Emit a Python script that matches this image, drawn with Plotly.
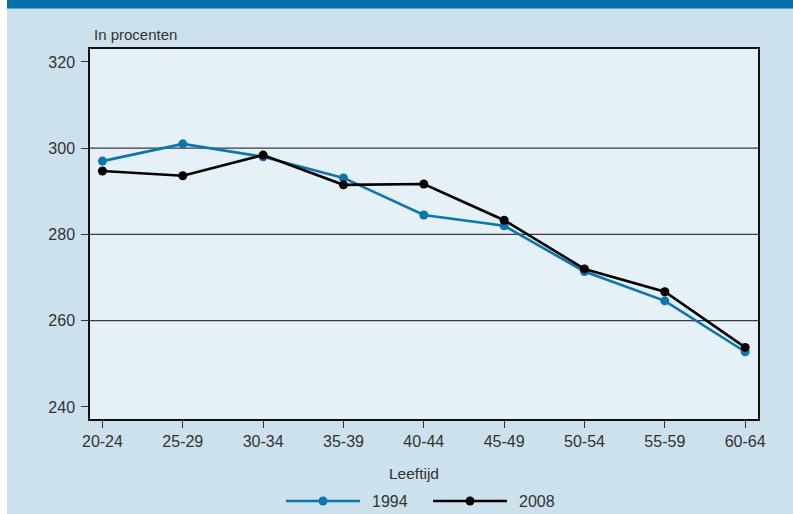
import plotly.graph_objects as go

# Age groups and series values (percent)
leeftijd = ["20-24", "25-29", "30-34", "35-39", "40-44", "45-49", "50-54", "55-59", "60-64"]
waarden_1994 = [297.0, 301.0, 298.0, 293.1, 284.5, 282.0, 271.4, 264.6, 252.8]
waarden_2008 = [294.7, 293.6, 298.4, 291.5, 291.7, 283.3, 272.0, 266.7, 253.8]
y_ticks = [240, 260, 280, 300, 320]
grid_levels = [260, 280, 300]

W, H = 793, 514
L, R, T, B = 90, 35, 49, 95
BLUE = "#0A76AE"
BAR = "#0071AA"
PANEL = "#CCE1EC"
PLOTBG = "#E5F0F7"
TXT = "#333333"
FONT = "Liberation Sans, Arial, sans-serif"

series = [("1994", waarden_1994, BLUE), ("2008", waarden_2008, "#000000")]

fig = go.Figure()
for name, vals, col in series:
    fig.add_trace(go.Scatter(
        x=leeftijd, y=vals, name=name, mode="lines+markers",
        line=dict(color=col, width=2.6), marker=dict(color=col, size=9),
        showlegend=False,
    ))

pw, ph = W - L - R, H - T - B
def px_x(x):
    return (x - L) / pw
def px_y(y):
    return (H - B - y) / ph

shapes = [
    dict(type="rect", xref="paper", yref="paper", layer="below",
         x0=px_x(7), x1=px_x(W + 2), y0=px_y(H + 2), y1=px_y(8),
         fillcolor=PANEL, line=dict(width=0)),
    dict(type="rect", xref="paper", yref="paper", layer="below",
         x0=px_x(7), x1=px_x(W + 2), y0=px_y(8.5), y1=px_y(-2),
         fillcolor=BAR, line=dict(width=0)),
    dict(type="rect", xref="paper", yref="paper", layer="below",
         x0=0, x1=1, y0=0, y1=1, fillcolor=PLOTBG, line=dict(width=0)),
]
shapes += [
    dict(type="line", xref="paper", yref="y", x0=0, x1=1, y0=g, y1=g,
         line=dict(color="#3a3a3a", width=1.2), layer="below")
    for g in grid_levels
]

# legend: line sample with a centred marker, then the label
legend_y = px_y(501)
legend_items = [(286, 360, 370), (433, 507, 517)]
annotations = []
for (name, _, col), (lx0, lx1, tx) in zip(series, legend_items):
    shapes.append(dict(type="line", xref="paper", yref="paper",
                       x0=px_x(lx0), x1=px_x(lx1), y0=legend_y, y1=legend_y,
                       line=dict(color=col, width=2.6)))
    cx = (lx0 + lx1) / 2
    shapes.append(dict(type="circle", xref="paper", yref="paper",
                       x0=px_x(cx - 4.5), x1=px_x(cx + 4.5),
                       y0=px_y(501 + 4.5), y1=px_y(501 - 4.5),
                       fillcolor=col, line=dict(color=col, width=0)))
    annotations.append(dict(text=name, xref="paper", yref="paper",
                            x=px_x(tx), y=legend_y, xanchor="left", yanchor="middle",
                            showarrow=False, font=dict(size=16, color=TXT)))

annotations.append(dict(text="In procenten", xref="paper", yref="paper",
                        x=px_x(92), y=px_y(35), xanchor="left", yanchor="middle",
                        showarrow=False, font=dict(size=15, color=TXT)))
annotations.append(dict(text="Leeftijd", xref="paper", yref="paper",
                        x=px_x(414), y=px_y(473), xanchor="center", yanchor="middle",
                        showarrow=False, font=dict(size=15.5, color=TXT)))

fig.update_layout(
    width=W, height=H,
    margin=dict(l=L, r=R, t=T, b=B, pad=0, autoexpand=False),
    paper_bgcolor="white",
    plot_bgcolor=PLOTBG,
    font=dict(family=FONT, size=16, color=TXT),
    showlegend=False,
    shapes=shapes,
    annotations=annotations,
)

fig.update_xaxes(
    type="category", range=[-0.155, 8.16], automargin=False,
    showgrid=False, showline=True, linecolor="#111111", linewidth=1.5, mirror=True,
    ticks="outside", ticklen=7, tickcolor="#333333", tickwidth=1.3,
    tickfont=dict(size=16, color=TXT), zeroline=False,
)
fig.update_yaxes(
    range=[237.2, 323.0], tickvals=y_ticks, automargin=False,
    showgrid=False, showline=True, linecolor="#111111", linewidth=1.5, mirror=True,
    ticks="outside", ticklen=7, tickcolor="#333333", tickwidth=1.3,
    ticklabelstandoff=3,
    tickfont=dict(size=16, color=TXT), zeroline=False,
)

fig.write_html("out.html")
